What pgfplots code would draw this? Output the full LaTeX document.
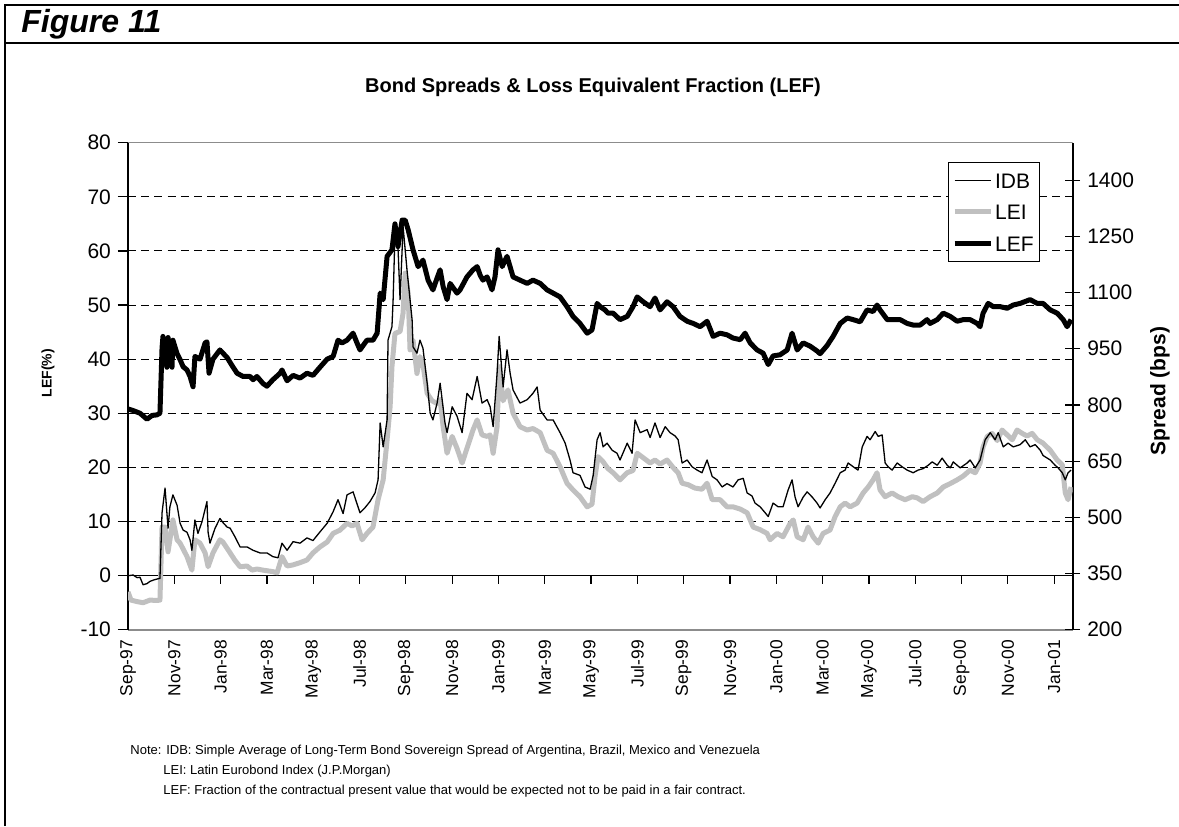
\documentclass[border=0pt]{standalone}
\usepackage{pgfplots}
\pgfplotsset{compat=1.18}
\usepackage{pgfplotstable}
\usepackage{fontspec}
\setmainfont{Liberation Sans}
\definecolor{leigray}{RGB}{192,192,192}
\definecolor{bordergray}{RGB}{140,140,140}

% LEF (%), x = months since 1 Sep 1997
\pgfplotstableread{
m v
0.00 30.8
0.22 30.5
0.52 30.0
0.82 28.9
1.04 29.6
1.25 29.7
1.38 30.0
1.47 42.0
1.51 44.2
1.60 40.5
1.68 38.5
1.73 44.0
1.81 41.0
1.90 38.5
1.94 43.5
2.12 41.0
2.25 39.9
2.38 38.6
2.55 38.0
2.68 36.8
2.81 34.9
2.89 40.5
3.11 40.0
3.33 43.0
3.41 43.2
3.50 37.4
3.67 40.0
3.97 41.7
4.28 40.3
4.54 38.5
4.71 37.4
4.97 36.8
5.27 36.8
5.40 36.2
5.57 36.8
5.83 35.5
6.00 35.0
6.26 36.2
6.57 37.4
6.65 38.0
6.87 36.0
7.13 37.0
7.43 36.5
7.73 37.4
7.99 37.0
8.29 38.5
8.60 40.0
8.86 40.5
9.07 43.5
9.24 43.0
9.46 43.5
9.72 44.8
9.89 43.0
10.02 41.7
10.15 42.5
10.32 43.5
10.58 43.5
10.76 44.8
10.89 52.2
11.02 51.0
11.19 59.0
11.40 60.2
11.53 65.0
11.66 60.8
11.84 65.7
11.97 65.7
12.10 63.9
12.31 60.2
12.53 57.1
12.74 58.3
12.96 54.6
13.17 52.8
13.35 55.0
13.48 56.5
13.61 53.4
13.78 51.0
13.91 54.0
14.21 52.2
14.34 52.8
14.64 55.2
14.90 56.5
15.08 57.1
15.21 55.5
15.33 54.6
15.51 55.2
15.72 52.8
15.85 55.2
15.98 60.2
16.16 57.1
16.37 59.0
16.50 57.1
16.63 55.2
16.93 54.6
17.24 54.0
17.49 54.6
17.80 54.0
18.10 52.8
18.36 52.2
18.66 51.5
18.96 49.7
19.22 47.9
19.52 46.6
19.83 44.8
20.04 45.4
20.26 50.3
20.39 49.7
20.60 49.1
20.73 48.5
20.95 48.5
21.25 47.3
21.56 47.9
21.81 49.7
21.99 51.5
22.25 50.6
22.55 49.7
22.76 51.3
22.98 49.1
23.28 50.6
23.54 49.7
23.84 47.9
24.15 47.0
24.41 46.6
24.71 46.0
25.01 47.0
25.27 44.2
25.57 44.8
25.87 44.5
26.13 43.9
26.44 43.6
26.65 44.8
26.87 43.0
27.17 41.7
27.43 41.1
27.65 39.0
27.86 40.6
28.16 40.8
28.47 41.7
28.68 44.8
28.90 41.7
29.16 43.0
29.46 42.4
29.76 41.5
29.89 41.0
30.19 42.5
30.45 44.2
30.76 46.6
31.06 47.6
31.32 47.3
31.62 46.9
31.92 49.1
32.18 48.8
32.35 50.0
32.48 49.1
32.79 47.3
33.05 47.3
33.35 47.3
33.65 46.6
33.91 46.3
34.21 46.3
34.51 47.3
34.64 46.6
34.95 47.3
35.21 48.5
35.51 47.9
35.81 47.0
36.07 47.3
36.37 47.3
36.67 46.6
36.80 46.0
36.93 48.5
37.15 50.3
37.37 49.7
37.67 49.7
37.97 49.4
38.23 50.0
38.53 50.3
38.96 51.0
39.27 50.3
39.52 50.3
39.83 49.1
40.13 48.5
40.39 47.3
40.56 46.0
40.73 47.3
}\lefdata

% IDB spread (bps)
\pgfplotstableread{
m v
0.00 344
0.22 346
0.39 339
0.52 340
0.65 320
0.82 323
0.95 329
1.12 333
1.30 336
1.38 337
1.47 512
1.60 578
1.73 471
1.81 528
1.94 560
2.12 532
2.25 484
2.38 466
2.55 460
2.68 440
2.76 412
2.89 493
3.02 457
3.20 489
3.41 542
3.46 460
3.54 431
3.76 471
3.97 497
4.10 486
4.28 474
4.41 471
4.62 448
4.84 421
5.14 421
5.40 412
5.70 405
6.00 405
6.26 395
6.48 392
6.65 431
6.87 412
7.13 435
7.43 431
7.73 445
7.99 438
8.29 461
8.60 484
8.86 515
9.07 547
9.29 510
9.46 560
9.72 568
10.02 512
10.24 526
10.45 542
10.67 565
10.80 600
10.89 752
11.02 688
11.19 760
11.23 973
11.40 1009
11.45 1081
11.53 1258
11.66 1222
11.75 1081
11.88 1276
12.05 1160
12.27 1027
12.31 955
12.48 938
12.61 973
12.74 951
12.92 858
13.05 778
13.17 760
13.35 805
13.48 858
13.69 752
13.78 726
14.00 795
14.21 770
14.43 726
14.64 831
14.86 814
15.08 876
15.29 805
15.51 814
15.64 795
15.77 742
15.94 884
16.03 983
16.20 848
16.37 947
16.50 886
16.63 840
16.93 805
17.24 814
17.49 831
17.67 848
17.80 786
18.10 760
18.36 760
18.66 726
18.88 698
19.09 653
19.22 619
19.52 612
19.74 581
19.96 575
20.09 612
20.26 707
20.39 726
20.52 688
20.69 698
20.91 679
21.12 671
21.25 653
21.56 698
21.77 671
21.90 760
22.12 726
22.42 734
22.55 713
22.76 752
22.98 713
23.20 742
23.41 726
23.63 717
23.76 707
23.93 645
24.15 653
24.36 635
24.58 626
24.79 619
25.01 653
25.23 609
25.44 600
25.66 581
25.87 590
26.13 581
26.35 600
26.57 604
26.74 565
26.95 557
27.08 538
27.30 528
27.52 512
27.65 502
27.86 538
28.08 528
28.29 528
28.51 573
28.68 600
28.81 554
28.94 528
29.16 554
29.33 568
29.55 554
29.76 538
29.89 525
30.11 547
30.32 565
30.54 591
30.76 619
30.97 626
31.10 645
31.32 635
31.53 626
31.71 688
31.92 716
32.05 707
32.27 729
32.40 716
32.57 720
32.70 645
32.83 635
33.00 626
33.22 645
33.43 635
33.65 626
33.91 619
34.12 626
34.34 630
34.56 639
34.73 648
34.95 639
35.16 658
35.38 639
35.51 632
35.64 648
35.94 632
36.24 645
36.37 653
36.59 632
36.80 653
37.02 707
37.24 726
37.45 707
37.58 726
37.80 688
38.01 698
38.23 688
38.53 694
38.75 707
38.96 688
39.18 694
39.40 679
39.52 665
39.83 653
40.04 639
40.17 632
40.35 619
40.48 600
40.60 619
40.73 626
}\idbdata

% LEI spread (bps)
\pgfplotstableread{
m v
0.00 301
0.13 279
0.39 275
0.65 272
0.95 279
1.25 278
1.38 279
1.47 474
1.60 474
1.73 408
1.94 493
2.12 440
2.25 431
2.55 395
2.76 359
2.89 440
3.11 431
3.33 405
3.46 368
3.67 405
3.97 440
4.10 434
4.41 405
4.62 385
4.84 368
5.14 370
5.36 359
5.57 362
5.83 359
6.26 355
6.44 352
6.65 395
6.87 370
7.13 373
7.43 379
7.73 386
7.99 405
8.29 421
8.60 434
8.86 457
9.16 466
9.46 484
9.68 477
9.89 484
10.11 440
10.32 457
10.58 474
10.80 547
11.02 600
11.19 707
11.32 795
11.40 902
11.53 991
11.75 996
11.88 1045
11.97 1152
12.10 1098
12.18 947
12.31 973
12.48 884
12.61 929
12.74 908
12.92 831
13.13 811
13.35 804
13.48 815
13.61 742
13.78 671
14.00 716
14.21 684
14.43 645
14.64 684
14.90 733
15.08 760
15.29 720
15.51 716
15.64 720
15.77 671
15.94 742
16.03 902
16.20 811
16.41 840
16.63 778
16.93 742
17.24 733
17.49 737
17.80 726
18.10 679
18.36 671
18.66 635
18.96 591
19.22 573
19.52 555
19.83 528
20.04 535
20.17 609
20.30 662
20.52 648
20.73 630
20.95 619
21.25 600
21.56 619
21.81 625
21.99 671
22.25 659
22.55 645
22.76 653
22.98 642
23.28 653
23.54 633
23.76 619
23.93 591
24.19 587
24.49 578
24.79 575
25.01 591
25.23 547
25.57 547
25.87 528
26.13 528
26.44 522
26.74 512
27.00 474
27.30 467
27.60 457
27.73 440
28.03 457
28.29 448
28.60 484
28.73 493
28.90 448
29.16 440
29.37 474
29.59 448
29.81 431
30.02 457
30.32 466
30.54 502
30.76 528
30.97 538
31.19 528
31.49 538
31.75 565
31.97 581
32.18 600
32.35 619
32.48 573
32.70 555
33.00 565
33.26 555
33.56 547
33.87 555
34.08 552
34.34 542
34.64 555
34.95 565
35.21 581
35.51 590
35.81 600
36.07 610
36.37 626
36.59 619
36.80 645
36.93 688
37.11 716
37.32 724
37.54 705
37.75 733
37.97 720
38.19 707
38.40 733
38.62 724
38.83 717
39.05 724
39.27 707
39.52 698
39.83 679
40.13 653
40.35 640
40.48 565
40.60 547
40.73 581
}\leidata

\begin{document}
\begin{tikzpicture}
\useasboundingbox (0,0) rectangle (589.5pt,413pt);
% frame
\draw[line width=1pt] (2.5pt,0pt) -- (2.5pt,410.5pt) -- (589.5pt,410.5pt);
\draw[line width=1pt] (2.5pt,391.3pt) -- (589.5pt,391.3pt);
\node[anchor=west, inner sep=0pt, font=\fontsize{16}{19}\selectfont\bfseries\itshape] at (10.5pt,401pt) {Figure 11};
\node[inner sep=0pt, font=\fontsize{10}{12}\selectfont\bfseries] at (296.5pt,369.5pt) {Bond Spreads \& Loss Equivalent Fraction (LEF)};

% left axis: LEF
\begin{axis}[
  at={(64pt,98.15pt)}, anchor=south west,
  scale only axis, width=472.35pt, height=243.5pt,
  xmin=0, xmax=40.8, ymin=-10, ymax=80,
  axis x line*=bottom, axis y line*=left,
  x axis line style={draw=bordergray, line width=0.8pt, -},
  y axis line style={draw=black, line width=0.8pt, -},
  xtick={0,2,...,40},
  xticklabels={Sep-97,Nov-97,Jan-98,Mar-98,May-98,Jul-98,Sep-98,Nov-98,Jan-99,Mar-99,May-99,Jul-99,Sep-99,Nov-99,Jan-00,Mar-00,May-00,Jul-00,Sep-00,Nov-00,Jan-01},
  x tick label style={rotate=90, anchor=east, font=\fontsize{8.7}{10}\selectfont, inner sep=0pt},
  x tick style={draw=none},
  ytick={-10,0,...,80},
  y tick label style={font=\fontsize{10.5}{12}\selectfont},
  y tick style={draw=black, line width=0.6pt},
  tick align=outside, major tick length=5pt,
  extra y ticks={10,20,30,40,50,60,70},
  extra y tick labels={},
  extra y tick style={grid=major, tick style={draw=none}},
  grid style={black, line width=0.5pt, dash pattern=on 4pt off 2.6pt},
  ylabel={LEF(\%)},
  ylabel style={font=\fontsize{7}{8}\selectfont\bfseries, at={(axis description cs:-0.0847,0.527)}, anchor=center},
  /pgf/number format/assume math mode=true,
]
\draw[black, line width=0.8pt] (axis cs:0,0) -- (axis cs:40.8,0);
\pgfplotsinvokeforeach{2,4,6,8,10,12,14,16,18,20,22,24,26,28,30,32,34,36,38,40}{
  \draw[black, line width=0.6pt] (axis cs:#1,0) -- ++(0pt,-4pt);
}
\addplot[black, line width=2.5pt, line join=round] table[x=m, y=v] {\lefdata};
\end{axis}

% right axis: spreads
\begin{axis}[
  at={(64pt,98.15pt)}, anchor=south west,
  scale only axis, width=472.35pt, height=243.5pt,
  xmin=0, xmax=40.8, ymin=200, ymax=1500,
  axis x line=none, axis y line*=right,
  y axis line style={draw=black, line width=0.8pt, -},
  ytick={200,350,...,1400},
  y tick label style={font=\fontsize{10.5}{12}\selectfont},
  y tick style={draw=black, line width=0.6pt},
  tick align=center, major tick length=7.5pt,
  ylabel={Spread (bps)},
  ylabel style={font=\fontsize{10.5}{12}\selectfont\bfseries, at={(axis description cs:1.0924,0.49)}, anchor=center},
  /pgf/number format/assume math mode=true,
  /pgf/number format/1000 sep={},
  legend style={at={(0.8676,0.9604)}, anchor=north west, draw=black, line width=0.5pt,
    font=\fontsize{10.5}{12}\selectfont, inner xsep=2pt, inner ysep=4pt, row sep=5.75pt,
    nodes={inner sep=1pt, text height=8pt, text depth=0pt}},
  legend cell align=left,
  legend image code/.code={\draw[#1] (0pt,0pt) -- (18pt,0pt);},
]
\draw[bordergray, line width=0.8pt] (rel axis cs:0,1) -- (rel axis cs:1,1);
\addplot[leigray, line width=2.5pt, line join=round, forget plot] table[x=m, y=v] {\leidata};
\addplot[black, line width=0.65pt, line join=round, forget plot] table[x=m, y=v] {\idbdata};
\addlegendimage{black, line width=0.65pt}
\addlegendimage{leigray, line width=2.5pt}
\addlegendimage{black, line width=2.5pt}
\legend{IDB,LEI,LEF}
\end{axis}

% notes
\node[anchor=base west, inner sep=0pt, font=\fontsize{6.5}{8}\selectfont] at (65pt,36pt) {Note: IDB: Simple Average of Long-Term Bond Sovereign Spread of Argentina, Brazil, Mexico and Venezuela};
\node[anchor=base west, inner sep=0pt, font=\fontsize{6.5}{8}\selectfont] at (81.5pt,26pt) {LEI: Latin Eurobond Index (J.P.Morgan)};
\node[anchor=base west, inner sep=0pt, font=\fontsize{6.5}{8}\selectfont] at (81.5pt,16pt) {LEF: Fraction of the contractual present value that would be expected not to be paid in a fair contract.};
\end{tikzpicture}
\end{document}
